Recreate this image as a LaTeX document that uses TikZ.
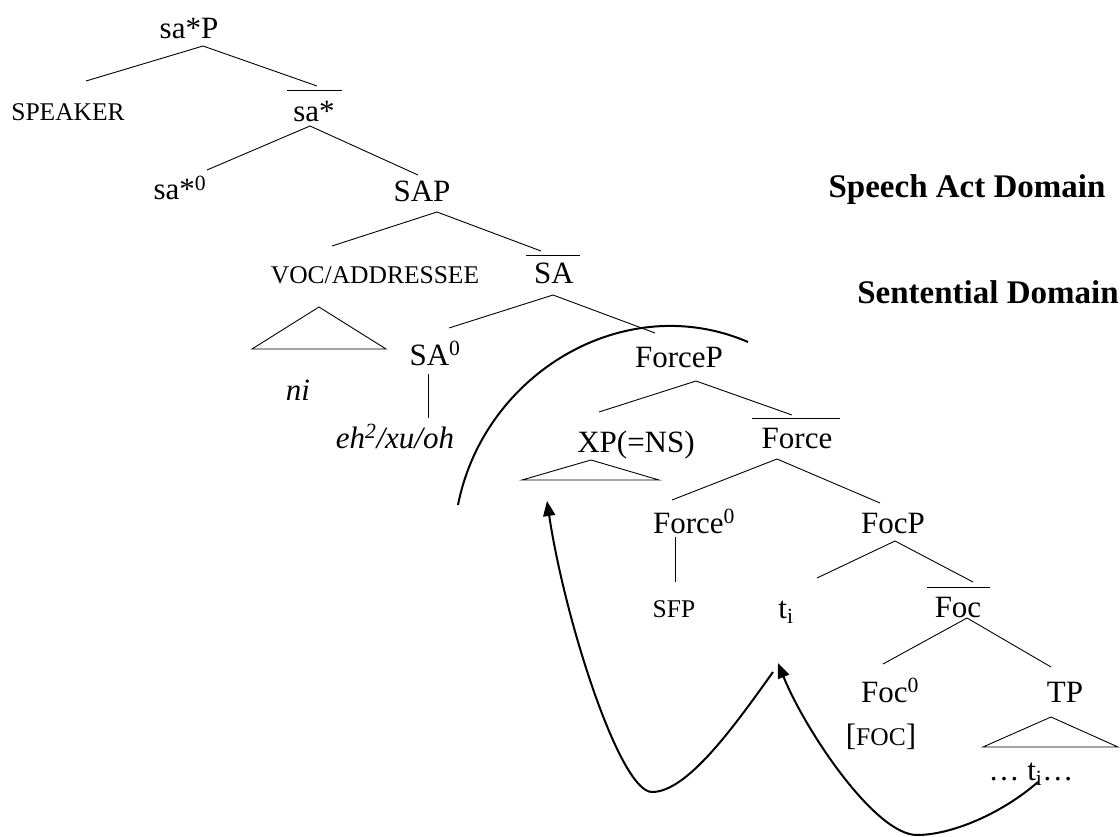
\documentclass[tikz,border=0pt]{standalone}
\usepackage{fontspec}
\setmainfont{Liberation Serif}
\usetikzlibrary{arrows.meta}

\begin{document}
\begin{tikzpicture}[x=1pt,y=-1pt,
  lab/.style={anchor=base, inner sep=0pt, font=\fontsize{31}{36}\selectfont},
  sc/.style={lab, font=\fontsize{25.5}{30}\selectfont},
  itl/.style={lab, font=\fontsize{31}{36}\selectfont\itshape},
  dom/.style={lab, font=\fontsize{33}{38}\selectfont\bfseries},
  branch/.style={line width=0.9pt},
  ring/.style={line width=2pt},
  movearrow/.style={line width=2pt, -{Triangle[length=15pt,width=12pt]}}]
\useasboundingbox (0,0) rectangle (1120,837);

% labels
\node[lab] (saP)    at (189,39)  {sa*P};
\node[sc]  (speaker) at (68,121) {SPEAKER};
\node[lab] (sab)    at (314,122) {sa*};
\node[lab] (sa0)    at (180,200) {sa*\textsuperscript{0}};
\node[lab] (sap)    at (422,202) {SAP};
\node[sc]  (voc)    at (375,284) {VOC/ADDRESSEE};
\node[lab] (sab2)   at (554,284) {SA};
\node[itl] (ni)     at (298,400) {ni};
\node[lab] (sa0b)   at (435,365) {SA\textsuperscript{0}};
\node[itl] (eh)     at (395,448) {eh\textsuperscript{2}/xu/oh};
\node[lab] (forcep) at (679,367) {ForceP};
\node[lab] (xp)     at (636,452) {XP(=NS)};
\node[lab] (forceb) at (797,448) {Force};
\node[lab] (force0) at (694,533) {Force\textsuperscript{0}};
\node[lab] (focp)   at (893,533) {FocP};
\node[sc]  (sfp)    at (674,617) {SFP};
\node[lab] (ti)     at (786,618) {t\textsubscript{i}};
\node[lab] (focb)   at (958,617) {Foc};
\node[lab] (foc0)   at (890,702) {Foc\textsuperscript{0}};
\node[lab] (focf)   at (881,745) {[{\fontsize{25.5}{30}\selectfont FOC}]};
\node[lab] (tp)     at (1065,702) {TP};
\node[lab] (dots)   at (1031,780) {… t\textsubscript{i}…};
\node[dom] (sad)    at (967,198) {Speech Act Domain};
\node[dom] (sd)     at (988,304) {Sentential Domain};

% bars over intermediate projections
\draw[branch] ([shift={(-27,-32)}]sab.base) -- ([shift={(28,-32)}]sab.base);
\draw[branch] ([shift={(-28,-29)}]sab2.base) -- ([shift={(26,-29)}]sab2.base);
\draw[branch] ([shift={(-45,-30)}]forceb.base) -- ([shift={(43,-30)}]forceb.base);
\draw[branch] ([shift={(-31,-30)}]focb.base) -- ([shift={(32,-30)}]focb.base);

% branches
\draw[branch] ([shift={(14,7)}]saP.base) -- ([shift={(18,-40)}]speaker.base);
\draw[branch] ([shift={(14,7)}]saP.base) -- ([shift={(3,-36)}]sab.base);
\draw[branch] ([shift={(-4,4)}]sab.base) -- ([shift={(27,-30)}]sa0.base);
\draw[branch] ([shift={(-4,4)}]sab.base) -- ([shift={(-4,-27)}]sap.base);
\draw[branch] ([shift={(15,10)}]sap.base) -- ([shift={(-43,-38)}]voc.base);
\draw[branch] ([shift={(15,10)}]sap.base) -- ([shift={(-13,-33)}]sab2.base);
\draw[branch] ([shift={(-1,11)}]sab2.base) -- ([shift={(14,-37)}]sa0b.base);
\draw[branch] ([shift={(-1,11)}]sab2.base) -- ([shift={(-24,-34)}]forcep.base);
\draw[branch] ([shift={(-7,9)}]sa0b.base) -- ([shift={(33,-30)}]eh.base);
\draw[branch] ([shift={(17,14)}]forcep.base) -- ([shift={(-37,-40)}]xp.base);
\draw[branch] ([shift={(17,14)}]forcep.base) -- ([shift={(-5,-33)}]forceb.base);
\draw[branch] ([shift={(-20,11)}]forceb.base) -- ([shift={(-22,-33)}]force0.base);
\draw[branch] ([shift={(-20,11)}]forceb.base) -- ([shift={(-13,-30)}]focp.base);
\draw[branch] ([shift={(-19,4)}]force0.base) -- ([shift={(1,-35)}]sfp.base);
\draw[branch] ([shift={(2,8)}]focp.base) -- ([shift={(31,-40)}]ti.base);
\draw[branch] ([shift={(2,8)}]focp.base) -- ([shift={(15,-35)}]focb.base);
\draw[branch] ([shift={(9,1)}]focb.base) -- ([shift={(-7,-38)}]foc0.base);
\draw[branch] ([shift={(9,1)}]focb.base) -- ([shift={(-14,-35)}]tp.base);

% triangles for unanalysed constituents
\draw[branch] ([shift={(-56,23)}]voc.base) -- ([shift={(-123,65)}]voc.base)
  -- ([shift={(11,65)}]voc.base) -- cycle;
\draw[branch] ([shift={(-45,8)}]xp.base) -- ([shift={(-114,28)}]xp.base)
  -- ([shift={(23,28)}]xp.base) -- cycle;
\draw[branch] ([shift={(-14,15)}]tp.base) -- ([shift={(-82,45)}]tp.base)
  -- ([shift={(53,45)}]tp.base) -- cycle;

% boundary between the two domains
\draw[ring] (458,505) .. controls (484,373) and (625,289) .. (748,342);

% movement arrows
\coordinate (low1) at (652,792);
\coordinate (low2) at (917,835);
\draw[movearrow] ([shift={(-13,54)}]ti.base) .. controls (733,728) and (687,792) .. (low1)
  .. controls (620,792) and (565,621) .. ([shift={(-89,49)}]xp.base);
\draw[movearrow] ([shift={(7,2)}]dots.base) .. controls (1000,815) and (950,835) .. (low2)
  .. controls (875,835) and (805,730) .. ([shift={(-8,45)}]ti.base);
\end{tikzpicture}
\end{document}
